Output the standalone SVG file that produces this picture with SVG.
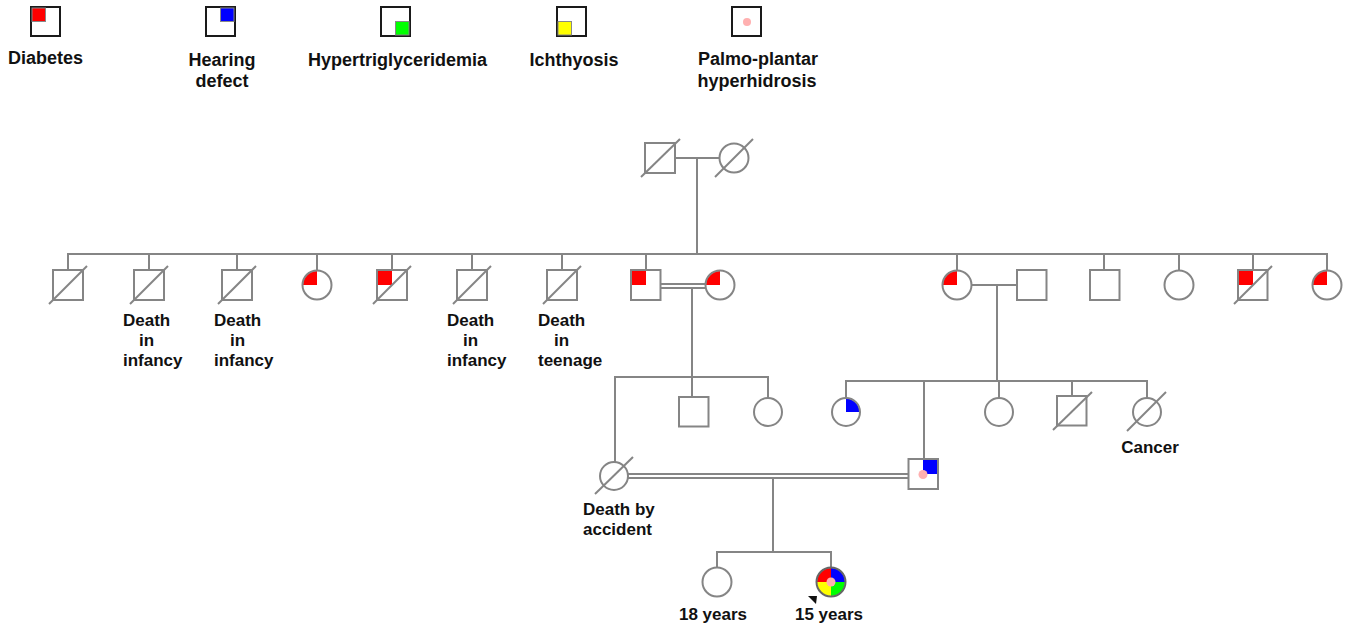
<svg xmlns="http://www.w3.org/2000/svg" width="1348" height="627" viewBox="0 0 1348 627">
<style>
.sym{fill:none;stroke:#858585;stroke-width:2}
.lg{fill:#fff;stroke:#1a1a1a;stroke-width:2}
.ln{fill:none;stroke:#858585;stroke-width:2}
.dl{stroke:#858585;stroke-width:2}
.red{fill:#ff0000}
.blue{fill:#0000ff}
.green{fill:#00ff00}
.yel{fill:#ffff00}
.pink{fill:#ffb0b0}
.q{stroke:#888;stroke-width:1}
text{font-family:"Liberation Sans",Arial,sans-serif;font-weight:bold;fill:#111}
.t18{font-size:18px}
.t17{font-size:17px}
</style>
<rect width="1348" height="627" fill="#fff"/>

<g id="legend">
  <g id="leg-diabetes">
    <rect class="lg" x="31" y="7" width="29" height="29"/>
    <rect class="red q" x="32" y="8" width="13.5" height="13.5"/>
    <text class="t18" x="8" y="64">Diabetes</text>
  </g>
  <g id="leg-hearing">
    <rect class="lg" x="206" y="7" width="29" height="29"/>
    <rect class="blue q" x="220.5" y="8" width="13.5" height="13.5"/>
    <text class="t18" x="222" y="66" text-anchor="middle">Hearing</text>
    <text class="t18" x="222" y="87" text-anchor="middle">defect</text>
  </g>
  <g id="leg-hypertg">
    <rect class="lg" x="381" y="7" width="29" height="29"/>
    <rect class="green q" x="395.5" y="21.5" width="13.5" height="13.5"/>
    <text class="t18" x="308" y="66">Hypertriglyceridemia</text>
  </g>
  <g id="leg-ichthyosis">
    <rect class="lg" x="557" y="7" width="29" height="29"/>
    <rect class="yel q" x="558" y="21.5" width="13.5" height="13.5"/>
    <text class="t18" x="574" y="66" text-anchor="middle">Ichthyosis</text>
  </g>
  <g id="leg-palmo">
    <rect class="lg" x="732" y="7" width="29" height="29"/>
    <circle class="pink" cx="747" cy="22" r="4"/>
    <text class="t18" x="758" y="65" text-anchor="middle">Palmo-plantar</text>
    <text class="t18" x="757" y="87" text-anchor="middle">hyperhidrosis</text>
  </g>
</g>

<g id="connectors">
  <!-- Gen I -->
  <line class="ln" x1="675" y1="158" x2="720" y2="158"/>
  <line class="ln" x1="697" y1="158" x2="697" y2="254"/>
  <!-- Gen II sibship -->
  <line class="ln" x1="67" y1="254" x2="1328" y2="254"/>
  <path class="ln" d="M68,254V270 M149,254V270 M237,254V270 M317,254V271 M392,254V270 M472,254V270 M562,254V270 M646,254V270 M957,254V271 M1104,254V270 M1179,254V271 M1253,254V270 M1327,254V271"/>
  <!-- Couple 645 x 720 (consanguineous) -->
  <line class="ln" x1="660" y1="284" x2="706" y2="284"/>
  <line class="ln" x1="660" y1="288" x2="706" y2="288"/>
  <line class="ln" x1="692" y1="288" x2="692" y2="377"/>
  <line class="ln" x1="614" y1="377" x2="769" y2="377"/>
  <path class="ln" d="M615,377V462 M692,377V397 M768,377V398"/>
  <!-- Couple 957 x 1032 -->
  <line class="ln" x1="971" y1="285" x2="1017" y2="285"/>
  <line class="ln" x1="997" y1="285" x2="997" y2="381"/>
  <line class="ln" x1="845" y1="381" x2="1148" y2="381"/>
  <path class="ln" d="M846,381V398 M924,381V459 M999,381V398 M1072,381V396 M1147,381V398"/>
  <!-- Couple 614 x 923 (consanguineous) -->
  <line class="ln" x1="628" y1="474" x2="908" y2="474"/>
  <line class="ln" x1="628" y1="478" x2="908" y2="478"/>
  <line class="ln" x1="773" y1="478" x2="773" y2="552"/>
  <line class="ln" x1="716" y1="552" x2="832" y2="552"/>
  <path class="ln" d="M717,552V567 M831,552V568"/>
</g>

<g id="gen1">
  <g id="I-1">
    <rect class="sym" x="645" y="143" width="30" height="30"/>
    <line class="dl" x1="641" y1="177" x2="680" y2="139"/>
  </g>
  <g id="I-2">
    <circle class="sym" cx="734" cy="158" r="14.5"/>
    <line class="dl" x1="715" y1="177" x2="753" y2="139"/>
  </g>
</g>

<g id="gen2">
  <g id="II-1">
    <rect class="sym" x="53" y="270" width="30" height="30"/>
    <line class="dl" x1="49" y1="304" x2="87" y2="266"/>
  </g>
  <g id="II-2">
    <rect class="sym" x="134" y="270" width="30" height="30"/>
    <line class="dl" x1="130" y1="304" x2="168" y2="266"/>
    <text class="t17" x="123" y="326">Death</text>
    <text class="t17" x="139" y="346">in</text>
    <text class="t17" x="123" y="366">infancy</text>
  </g>
  <g id="II-3">
    <rect class="sym" x="222" y="270" width="30" height="30"/>
    <line class="dl" x1="218" y1="304" x2="256" y2="266"/>
    <text class="t17" x="214" y="326">Death</text>
    <text class="t17" x="230" y="346">in</text>
    <text class="t17" x="214" y="366">infancy</text>
  </g>
  <g id="II-4">
    <path class="red" d="M317,285 L303,285 A14,14 0 0 1 317,271 Z"/>
    <circle class="sym" cx="317" cy="285" r="14.5"/>
  </g>
  <g id="II-5">
    <rect class="red" x="378" y="271" width="14" height="14"/>
    <rect class="sym" x="377" y="270" width="30" height="30"/>
    <line class="dl" x1="373" y1="304" x2="411" y2="266"/>
  </g>
  <g id="II-6">
    <rect class="sym" x="457" y="270" width="30" height="30"/>
    <line class="dl" x1="453" y1="304" x2="491" y2="266"/>
    <text class="t17" x="447" y="326">Death</text>
    <text class="t17" x="463" y="346">in</text>
    <text class="t17" x="447" y="366">infancy</text>
  </g>
  <g id="II-7">
    <rect class="sym" x="547" y="270" width="30" height="30"/>
    <line class="dl" x1="543" y1="304" x2="581" y2="266"/>
    <text class="t17" x="538" y="326">Death</text>
    <text class="t17" x="554" y="346">in</text>
    <text class="t17" x="538" y="366">teenage</text>
  </g>
  <g id="II-8">
    <rect class="red" x="632" y="271" width="14" height="14"/>
    <rect class="sym" x="631" y="270" width="29.5" height="30"/>
  </g>
  <g id="II-9">
    <path class="red" d="M720,285 L706,285 A14,14 0 0 1 720,271 Z"/>
    <circle class="sym" cx="720" cy="285" r="14.5"/>
  </g>
  <g id="II-10">
    <path class="red" d="M957,285 L943,285 A14,14 0 0 1 957,271 Z"/>
    <circle class="sym" cx="957" cy="285" r="14.5"/>
  </g>
  <g id="II-11">
    <rect class="sym" x="1017" y="270" width="29.5" height="30"/>
  </g>
  <g id="II-12">
    <rect class="sym" x="1090" y="270" width="29.5" height="30"/>
  </g>
  <g id="II-13">
    <circle class="sym" cx="1179" cy="285" r="14.5"/>
  </g>
  <g id="II-14">
    <rect class="red" x="1239" y="271" width="14" height="14"/>
    <rect class="sym" x="1238" y="270" width="29.5" height="30"/>
    <line class="dl" x1="1234" y1="304" x2="1272" y2="266"/>
  </g>
  <g id="II-15">
    <path class="red" d="M1327,285 L1313,285 A14,14 0 0 1 1327,271 Z"/>
    <circle class="sym" cx="1327" cy="285" r="14.5"/>
  </g>
</g>

<g id="gen3">
  <g id="III-1">
    <rect class="sym" x="679" y="397" width="29.5" height="29.5"/>
  </g>
  <g id="III-2">
    <circle class="sym" cx="768" cy="412" r="14"/>
  </g>
  <g id="III-3">
    <path class="blue" d="M846,412 L846,398.5 A13.5,13.5 0 0 1 859.5,412 Z"/>
    <circle class="sym" cx="846" cy="412" r="14"/>
  </g>
  <g id="III-4">
    <rect class="blue" x="923" y="460" width="14" height="14"/>
    <circle class="pink" cx="923" cy="474.5" r="4.5"/>
    <rect class="sym" x="908.5" y="459" width="29.5" height="30"/>
  </g>
  <g id="III-5">
    <circle class="sym" cx="999" cy="412" r="14"/>
  </g>
  <g id="III-6">
    <rect class="sym" x="1057" y="396" width="29.5" height="29.5"/>
    <line class="dl" x1="1053" y1="430" x2="1092" y2="392"/>
  </g>
  <g id="III-7">
    <circle class="sym" cx="1147" cy="412" r="14"/>
    <line class="dl" x1="1127" y1="431" x2="1166" y2="392"/>
    <text class="t17" x="1150" y="453" text-anchor="middle">Cancer</text>
  </g>
  <g id="III-8">
    <circle class="sym" cx="614" cy="476" r="14"/>
    <line class="dl" x1="595" y1="494" x2="633" y2="457"/>
    <text class="t17" x="583" y="515">Death by</text>
    <text class="t17" x="583" y="535">accident</text>
  </g>
</g>

<g id="gen4">
  <g id="IV-1">
    <circle class="sym" cx="717" cy="582" r="14.5"/>
    <text class="t17" x="713" y="620" text-anchor="middle">18 years</text>
  </g>
  <g id="IV-2">
    <path class="red" d="M831,582 L817,582 A14,14 0 0 1 831,568 Z"/>
    <path class="blue" d="M831,582 L831,568 A14,14 0 0 1 845,582 Z"/>
    <path class="green" d="M831,582 L845,582 A14,14 0 0 1 831,596 Z"/>
    <path class="yel" d="M831,582 L831,596 A14,14 0 0 1 817,582 Z"/>
    <circle class="pink" cx="831" cy="582" r="4.5"/>
    <circle fill="none" stroke="#666" stroke-width="2" cx="831" cy="582" r="14.5"/>
    <polygon fill="#111" points="808,596 817,596 816,604"/>
    <text class="t17" x="829" y="620" text-anchor="middle">15 years</text>
  </g>
</g>
</svg>
